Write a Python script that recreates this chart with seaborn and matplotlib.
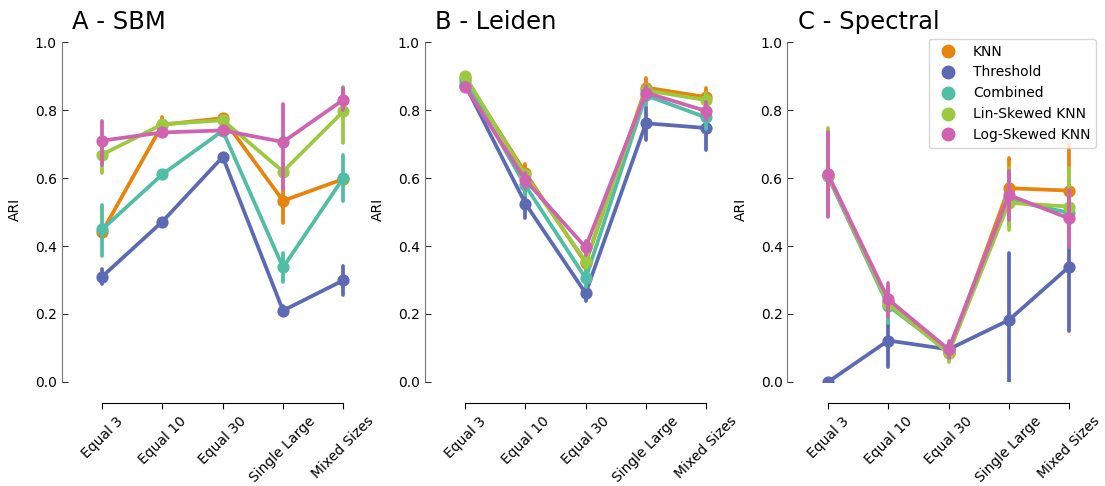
import numpy as np
import pandas as pd
import matplotlib
matplotlib.use("Agg")
import matplotlib.pyplot as plt
import seaborn as sns
from matplotlib.lines import Line2D

# ---------------- data ----------------
categories = ["Equal 3", "Equal 10", "Equal 30", "Single Large", "Mixed Sizes"]
methods = ["KNN", "Threshold", "Combined", "Lin-Skewed KNN", "Log-Skewed KNN"]
colors = ["#e8830c", "#5c6ab4", "#50bea4", "#9bc940", "#cf62b1"]
titles = ["A - SBM", "B - Leiden", "C - Spectral"]
yticks = [0.0, 0.2, 0.4, 0.6, 0.8, 1.0]

# rows = methods, columns = categories
sbm_mean = [[0.442, 0.757, 0.776, 0.533, 0.597],
            [0.310, 0.472, 0.662, 0.210, 0.299],
            [0.449, 0.611, 0.739, 0.337, 0.600],
            [0.669, 0.758, 0.770, 0.619, 0.796],
            [0.710, 0.734, 0.740, 0.706, 0.830]]
sbm_low = [[0.425, 0.745, 0.765, 0.467, 0.585],
           [0.288, 0.465, 0.655, 0.198, 0.256],
           [0.371, 0.605, 0.732, 0.295, 0.533],
           [0.616, 0.750, 0.762, 0.600, 0.704],
           [0.638, 0.725, 0.733, 0.567, 0.800]]
sbm_high = [[0.460, 0.778, 0.785, 0.574, 0.610],
            [0.331, 0.480, 0.670, 0.224, 0.342],
            [0.521, 0.618, 0.746, 0.380, 0.668],
            [0.720, 0.766, 0.778, 0.640, 0.869],
            [0.767, 0.742, 0.748, 0.818, 0.866]]

leiden_mean = [[0.895, 0.615, 0.350, 0.866, 0.838],
               [0.875, 0.525, 0.261, 0.761, 0.747],
               [0.885, 0.578, 0.305, 0.843, 0.778],
               [0.900, 0.608, 0.355, 0.858, 0.829],
               [0.869, 0.594, 0.396, 0.851, 0.797]]
leiden_low = [[0.885, 0.585, 0.330, 0.840, 0.810],
              [0.865, 0.481, 0.237, 0.712, 0.682],
              [0.875, 0.550, 0.280, 0.815, 0.745],
              [0.890, 0.590, 0.335, 0.840, 0.810],
              [0.860, 0.570, 0.375, 0.830, 0.770]]
leiden_high = [[0.905, 0.640, 0.370, 0.893, 0.865],
               [0.885, 0.565, 0.280, 0.810, 0.795],
               [0.895, 0.600, 0.330, 0.868, 0.810],
               [0.910, 0.625, 0.375, 0.875, 0.850],
               [0.878, 0.615, 0.415, 0.870, 0.825]]

spectral_mean = [[0.605, 0.235, 0.085, 0.570, 0.563],
                 [0.000, 0.122, 0.096, 0.182, 0.339],
                 [0.605, 0.224, 0.090, 0.535, 0.498],
                 [0.609, 0.230, 0.085, 0.527, 0.516],
                 [0.611, 0.243, 0.096, 0.550, 0.481]]
spectral_low = [[0.490, 0.190, 0.065, 0.480, 0.430],
                [0.000, 0.043, 0.085, 0.001, 0.151],
                [0.490, 0.173, 0.065, 0.460, 0.410],
                [0.490, 0.190, 0.058, 0.447, 0.410],
                [0.486, 0.192, 0.070, 0.476, 0.398]]
spectral_high = [[0.720, 0.280, 0.110, 0.658, 0.700],
                 [0.000, 0.173, 0.107, 0.380, 0.396],
                 [0.730, 0.262, 0.110, 0.610, 0.600],
                 [0.746, 0.270, 0.110, 0.630, 0.628],
                 [0.736, 0.292, 0.120, 0.621, 0.565]]

panels = [(sbm_low, sbm_mean, sbm_high),
          (leiden_low, leiden_mean, leiden_high),
          (spectral_low, spectral_mean, spectral_high)]


def long_frame(low, mean, high):
    rows = []
    for i, m in enumerate(methods):
        for j, c in enumerate(categories):
            for arr in (low, mean, high):
                rows.append({"method": m, "category": c, "ARI": arr[i][j]})
    return pd.DataFrame(rows)


# ---------------- plot ----------------
sns.set_style("ticks", rc={"text.color": "black", "axes.labelcolor": "black",
                           "xtick.color": "black", "ytick.color": "black"})
plt.rcParams["font.family"] = ["DejaVu Sans"]

fig, axes = plt.subplots(1, 3, figsize=(11.05, 4.86), dpi=100)
fig.subplots_adjust(left=0.0652, right=0.9948, bottom=0.214, top=0.9223, wspace=0.204)

for ax, title, (low, mean, high) in zip(axes, titles, panels):
    df = long_frame(low, mean, high)
    sns.pointplot(data=df, x="category", y="ARI", hue="method",
                  order=categories, hue_order=methods, palette=colors,
                  estimator="median", errorbar=lambda v: (v.min(), v.max()),
                  ax=ax, legend=False)
    # spines first (set_position resets tick properties)
    for s in ("top", "right"):
        ax.spines[s].set_visible(False)
    ax.spines["left"].set_position(("outward", 7.5))
    ax.spines["bottom"].set_position(("outward", 15))
    ax.spines["left"].set_bounds(0, 1)
    ax.spines["bottom"].set_bounds(0, len(categories) - 1)
    ax.spines["left"].set_color("#777777")
    ax.spines["bottom"].set_color("black")

    ax.set_ylim(0, 1.0125)
    ax.set_xlim(-0.5, len(categories) - 0.5)
    ax.set_yticks(yticks)
    ax.set_yticklabels([f"{t:.1f}" for t in yticks])
    ax.set_xticks(range(len(categories)))
    ax.set_xticklabels(categories, rotation=45, ha="center")
    ax.set_xlabel("")
    ax.set_ylabel("ARI", fontsize=10)
    ax.set_title(title, loc="left", fontsize=17.5)
    ax.tick_params(axis="y", left=True, direction="in", length=4.5,
                   labelsize=10, color="#333333")
    ax.tick_params(axis="x", bottom=True, direction="out", length=4.5,
                   labelsize=10, color="black")
    ax.yaxis.set_label_coords(-0.165, 0.5)

handles = [Line2D([], [], marker="o", linestyle="", color=c, markersize=9) for c in colors]
axes[2].legend(handles, methods, loc="upper right",
               bbox_to_anchor=(1096 / 1105, 1 - 39 / 486),
               bbox_transform=fig.transFigure, borderaxespad=0, fontsize=10,
               frameon=True, edgecolor="0.8", fancybox=True)

fig.savefig("out.png", dpi=100)
